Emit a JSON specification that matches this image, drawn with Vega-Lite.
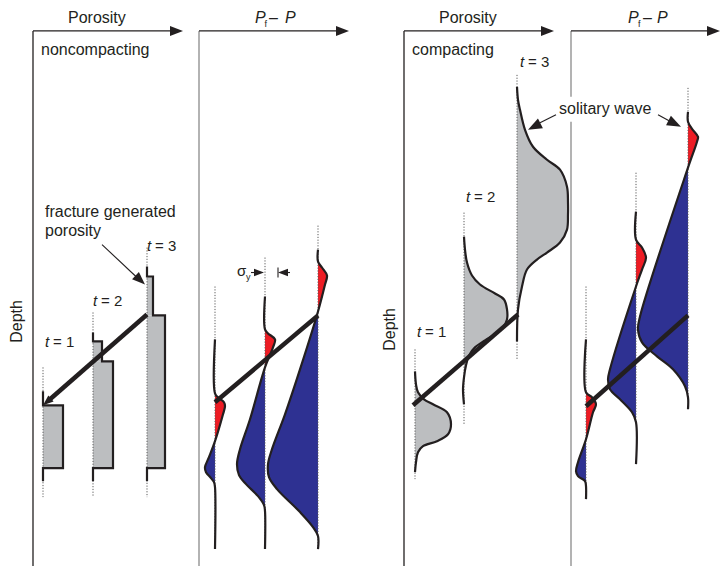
{
  "$schema": "https://vega.github.io/schema/vega-lite/v6.json",
  "width": 726,
  "height": 567,
  "autosize": {"type": "fit", "contains": "padding"},
  "padding": 0,
  "background": "white",
  "config": {"view": {"stroke": null}, "text": {"font": "Liberation Sans", "color": "#231f20"}},
  "datasets": {
    "frames": [
      {"x": 33, "y": 31, "x2": 33, "y2": 567, "c": "#231f20"},
      {"x": 33, "y": 31, "x2": 172, "y2": 31, "c": "#231f20"},
      {"x": 199, "y": 31, "x2": 199, "y2": 567, "c": "#8a8a8a"},
      {"x": 199, "y": 31, "x2": 338, "y2": 31, "c": "#231f20"},
      {"x": 404, "y": 31, "x2": 404, "y2": 567, "c": "#231f20"},
      {"x": 404, "y": 31, "x2": 543, "y2": 31, "c": "#231f20"},
      {"x": 571, "y": 31, "x2": 571, "y2": 97, "c": "#8a8a8a"},
      {"x": 571, "y": 122, "x2": 571, "y2": 567, "c": "#8a8a8a"},
      {"x": 571, "y": 31, "x2": 709, "y2": 31, "c": "#231f20"}
    ],
    "rects": [
      {"x": 43, "x2": 63, "y": 406, "y2": 469},
      {"x": 93, "x2": 102, "y": 342, "y2": 362},
      {"x": 93, "x2": 113, "y": 362, "y2": 469},
      {"x": 147, "x2": 153, "y": 277, "y2": 316},
      {"x": 147, "x2": 165, "y": 316, "y2": 469}
    ],
    "fills": [
      {"g": "r1", "c": "#ed1c24", "b": 215, "y": 394, "x": 215},
      {"g": "r1", "c": "#ed1c24", "b": 215, "y": 398, "x": 218},
      {"g": "r1", "c": "#ed1c24", "b": 215, "y": 403, "x": 224},
      {"g": "r1", "c": "#ed1c24", "b": 215, "y": 407, "x": 225},
      {"g": "r1", "c": "#ed1c24", "b": 215, "y": 415, "x": 223},
      {"g": "r1", "c": "#ed1c24", "b": 215, "y": 442, "x": 215},
      {"g": "b1", "c": "#2e3192", "b": 215, "y": 442, "x": 215},
      {"g": "b1", "c": "#2e3192", "b": 215, "y": 458, "x": 209},
      {"g": "b1", "c": "#2e3192", "b": 215, "y": 468, "x": 205},
      {"g": "b1", "c": "#2e3192", "b": 215, "y": 473, "x": 206},
      {"g": "b1", "c": "#2e3192", "b": 215, "y": 479, "x": 211},
      {"g": "b1", "c": "#2e3192", "b": 215, "y": 483, "x": 214},
      {"g": "b1", "c": "#2e3192", "b": 215, "y": 488, "x": 215},
      {"g": "r2", "c": "#ed1c24", "b": 265, "y": 330, "x": 265},
      {"g": "r2", "c": "#ed1c24", "b": 265, "y": 334, "x": 268},
      {"g": "r2", "c": "#ed1c24", "b": 265, "y": 340, "x": 275},
      {"g": "r2", "c": "#ed1c24", "b": 265, "y": 348, "x": 273},
      {"g": "r2", "c": "#ed1c24", "b": 265, "y": 368, "x": 265},
      {"g": "b2", "c": "#2e3192", "b": 265, "y": 368, "x": 265},
      {"g": "b2", "c": "#2e3192", "b": 265, "y": 420, "x": 250},
      {"g": "b2", "c": "#2e3192", "b": 265, "y": 450, "x": 240},
      {"g": "b2", "c": "#2e3192", "b": 265, "y": 465, "x": 237},
      {"g": "b2", "c": "#2e3192", "b": 265, "y": 476, "x": 239},
      {"g": "b2", "c": "#2e3192", "b": 265, "y": 485, "x": 246},
      {"g": "b2", "c": "#2e3192", "b": 265, "y": 497, "x": 258},
      {"g": "b2", "c": "#2e3192", "b": 265, "y": 506, "x": 264},
      {"g": "b2", "c": "#2e3192", "b": 265, "y": 512, "x": 265},
      {"g": "r3", "c": "#ed1c24", "b": 318, "y": 262, "x": 318},
      {"g": "r3", "c": "#ed1c24", "b": 318, "y": 268, "x": 322},
      {"g": "r3", "c": "#ed1c24", "b": 318, "y": 276, "x": 327},
      {"g": "r3", "c": "#ed1c24", "b": 318, "y": 285, "x": 325},
      {"g": "r3", "c": "#ed1c24", "b": 318, "y": 312, "x": 318},
      {"g": "b3", "c": "#2e3192", "b": 318, "y": 312, "x": 318},
      {"g": "b3", "c": "#2e3192", "b": 318, "y": 370, "x": 300},
      {"g": "b3", "c": "#2e3192", "b": 318, "y": 415, "x": 285},
      {"g": "b3", "c": "#2e3192", "b": 318, "y": 450, "x": 272},
      {"g": "b3", "c": "#2e3192", "b": 318, "y": 465, "x": 268},
      {"g": "b3", "c": "#2e3192", "b": 318, "y": 478, "x": 269},
      {"g": "b3", "c": "#2e3192", "b": 318, "y": 490, "x": 277},
      {"g": "b3", "c": "#2e3192", "b": 318, "y": 513, "x": 300},
      {"g": "b3", "c": "#2e3192", "b": 318, "y": 528, "x": 313},
      {"g": "b3", "c": "#2e3192", "b": 318, "y": 537, "x": 318},
      {"g": "g1", "c": "#bcbec0", "b": 415, "y": 372, "x": 415},
      {"g": "g1", "c": "#bcbec0", "b": 415, "y": 385, "x": 416},
      {"g": "g1", "c": "#bcbec0", "b": 415, "y": 393, "x": 418},
      {"g": "g1", "c": "#bcbec0", "b": 415, "y": 400, "x": 424},
      {"g": "g1", "c": "#bcbec0", "b": 415, "y": 405, "x": 433},
      {"g": "g1", "c": "#bcbec0", "b": 415, "y": 413, "x": 447},
      {"g": "g1", "c": "#bcbec0", "b": 415, "y": 425, "x": 451},
      {"g": "g1", "c": "#bcbec0", "b": 415, "y": 435, "x": 448},
      {"g": "g1", "c": "#bcbec0", "b": 415, "y": 442, "x": 437},
      {"g": "g1", "c": "#bcbec0", "b": 415, "y": 447, "x": 423},
      {"g": "g1", "c": "#bcbec0", "b": 415, "y": 453, "x": 418},
      {"g": "g1", "c": "#bcbec0", "b": 415, "y": 463, "x": 416},
      {"g": "g1", "c": "#bcbec0", "b": 415, "y": 473, "x": 415},
      {"g": "g2", "c": "#bcbec0", "b": 464, "y": 237, "x": 464},
      {"g": "g2", "c": "#bcbec0", "b": 464, "y": 250, "x": 465},
      {"g": "g2", "c": "#bcbec0", "b": 464, "y": 263, "x": 467},
      {"g": "g2", "c": "#bcbec0", "b": 464, "y": 276, "x": 472},
      {"g": "g2", "c": "#bcbec0", "b": 464, "y": 285, "x": 480},
      {"g": "g2", "c": "#bcbec0", "b": 464, "y": 294, "x": 495},
      {"g": "g2", "c": "#bcbec0", "b": 464, "y": 300, "x": 504},
      {"g": "g2", "c": "#bcbec0", "b": 464, "y": 310, "x": 507},
      {"g": "g2", "c": "#bcbec0", "b": 464, "y": 320, "x": 507},
      {"g": "g2", "c": "#bcbec0", "b": 464, "y": 328, "x": 503},
      {"g": "g2", "c": "#bcbec0", "b": 464, "y": 335, "x": 495},
      {"g": "g2", "c": "#bcbec0", "b": 464, "y": 341, "x": 485},
      {"g": "g2", "c": "#bcbec0", "b": 464, "y": 348, "x": 475},
      {"g": "g2", "c": "#bcbec0", "b": 464, "y": 356, "x": 469},
      {"g": "g2", "c": "#bcbec0", "b": 464, "y": 366, "x": 466},
      {"g": "g2", "c": "#bcbec0", "b": 464, "y": 378, "x": 464},
      {"g": "g3", "c": "#bcbec0", "b": 517, "y": 87, "x": 517},
      {"g": "g3", "c": "#bcbec0", "b": 517, "y": 100, "x": 518},
      {"g": "g3", "c": "#bcbec0", "b": 517, "y": 110, "x": 520},
      {"g": "g3", "c": "#bcbec0", "b": 517, "y": 130, "x": 525},
      {"g": "g3", "c": "#bcbec0", "b": 517, "y": 147, "x": 533},
      {"g": "g3", "c": "#bcbec0", "b": 517, "y": 160, "x": 547},
      {"g": "g3", "c": "#bcbec0", "b": 517, "y": 170, "x": 560},
      {"g": "g3", "c": "#bcbec0", "b": 517, "y": 187, "x": 567},
      {"g": "g3", "c": "#bcbec0", "b": 517, "y": 203, "x": 568},
      {"g": "g3", "c": "#bcbec0", "b": 517, "y": 215, "x": 568},
      {"g": "g3", "c": "#bcbec0", "b": 517, "y": 230, "x": 567},
      {"g": "g3", "c": "#bcbec0", "b": 517, "y": 243, "x": 560},
      {"g": "g3", "c": "#bcbec0", "b": 517, "y": 253, "x": 547},
      {"g": "g3", "c": "#bcbec0", "b": 517, "y": 260, "x": 537},
      {"g": "g3", "c": "#bcbec0", "b": 517, "y": 270, "x": 527},
      {"g": "g3", "c": "#bcbec0", "b": 517, "y": 287, "x": 522},
      {"g": "g3", "c": "#bcbec0", "b": 517, "y": 310, "x": 518},
      {"g": "g3", "c": "#bcbec0", "b": 517, "y": 340, "x": 517},
      {"g": "s1", "c": "#ed1c24", "b": 586, "y": 393, "x": 586},
      {"g": "s1", "c": "#ed1c24", "b": 586, "y": 398, "x": 592},
      {"g": "s1", "c": "#ed1c24", "b": 586, "y": 405, "x": 596},
      {"g": "s1", "c": "#ed1c24", "b": 586, "y": 413, "x": 593},
      {"g": "s1", "c": "#ed1c24", "b": 586, "y": 440, "x": 586},
      {"g": "u1", "c": "#2e3192", "b": 586, "y": 440, "x": 586},
      {"g": "u1", "c": "#2e3192", "b": 586, "y": 463, "x": 578},
      {"g": "u1", "c": "#2e3192", "b": 586, "y": 472, "x": 576},
      {"g": "u1", "c": "#2e3192", "b": 586, "y": 477, "x": 578},
      {"g": "u1", "c": "#2e3192", "b": 586, "y": 482, "x": 585},
      {"g": "u1", "c": "#2e3192", "b": 586, "y": 487, "x": 586},
      {"g": "s2", "c": "#ed1c24", "b": 636, "y": 240, "x": 636},
      {"g": "s2", "c": "#ed1c24", "b": 636, "y": 248, "x": 642},
      {"g": "s2", "c": "#ed1c24", "b": 636, "y": 258, "x": 646},
      {"g": "s2", "c": "#ed1c24", "b": 636, "y": 270, "x": 642},
      {"g": "s2", "c": "#ed1c24", "b": 636, "y": 287, "x": 636},
      {"g": "u2", "c": "#2e3192", "b": 636, "y": 287, "x": 636},
      {"g": "u2", "c": "#2e3192", "b": 636, "y": 370, "x": 610},
      {"g": "u2", "c": "#2e3192", "b": 636, "y": 380, "x": 608},
      {"g": "u2", "c": "#2e3192", "b": 636, "y": 390, "x": 610},
      {"g": "u2", "c": "#2e3192", "b": 636, "y": 400, "x": 620},
      {"g": "u2", "c": "#2e3192", "b": 636, "y": 413, "x": 632},
      {"g": "u2", "c": "#2e3192", "b": 636, "y": 423, "x": 636},
      {"g": "s3", "c": "#ed1c24", "b": 688, "y": 122, "x": 688},
      {"g": "s3", "c": "#ed1c24", "b": 688, "y": 129, "x": 692},
      {"g": "s3", "c": "#ed1c24", "b": 688, "y": 137, "x": 698},
      {"g": "s3", "c": "#ed1c24", "b": 688, "y": 142, "x": 697},
      {"g": "s3", "c": "#ed1c24", "b": 688, "y": 168, "x": 688},
      {"g": "u3", "c": "#2e3192", "b": 688, "y": 168, "x": 688},
      {"g": "u3", "c": "#2e3192", "b": 688, "y": 317, "x": 640},
      {"g": "u3", "c": "#2e3192", "b": 688, "y": 330, "x": 638},
      {"g": "u3", "c": "#2e3192", "b": 688, "y": 343, "x": 642},
      {"g": "u3", "c": "#2e3192", "b": 688, "y": 357, "x": 657},
      {"g": "u3", "c": "#2e3192", "b": 688, "y": 370, "x": 673},
      {"g": "u3", "c": "#2e3192", "b": 688, "y": 387, "x": 685},
      {"g": "u3", "c": "#2e3192", "b": 688, "y": 398, "x": 688}
    ],
    "dots": [
      {"x": 43, "y": 368, "y2": 498},
      {"x": 93, "y": 313, "y2": 498},
      {"x": 147, "y": 248, "y2": 498},
      {"x": 215, "y": 287, "y2": 550},
      {"x": 265, "y": 258, "y2": 550},
      {"x": 318, "y": 226, "y2": 550},
      {"x": 415, "y": 350, "y2": 480},
      {"x": 464, "y": 213, "y2": 425},
      {"x": 517, "y": 75, "y2": 360},
      {"x": 586, "y": 287, "y2": 500},
      {"x": 636, "y": 173, "y2": 420},
      {"x": 688, "y": 88, "y2": 400}
    ],
    "steps": [
      {"g": "a", "i": 1, "x": 43, "y": 392}, {"g": "a", "i": 2, "x": 43, "y": 406}, {"g": "a", "i": 3, "x": 63, "y": 406},
      {"g": "a", "i": 4, "x": 63, "y": 469}, {"g": "a", "i": 5, "x": 43, "y": 469}, {"g": "a", "i": 6, "x": 43, "y": 482},
      {"g": "b", "i": 1, "x": 93, "y": 333}, {"g": "b", "i": 2, "x": 93, "y": 342}, {"g": "b", "i": 3, "x": 102, "y": 342},
      {"g": "b", "i": 4, "x": 102, "y": 362}, {"g": "b", "i": 5, "x": 113, "y": 362}, {"g": "b", "i": 6, "x": 113, "y": 469},
      {"g": "b", "i": 7, "x": 93, "y": 469}, {"g": "b", "i": 8, "x": 93, "y": 482},
      {"g": "c", "i": 1, "x": 147, "y": 267}, {"g": "c", "i": 2, "x": 147, "y": 277}, {"g": "c", "i": 3, "x": 153, "y": 277},
      {"g": "c", "i": 4, "x": 153, "y": 316}, {"g": "c", "i": 5, "x": 165, "y": 316}, {"g": "c", "i": 6, "x": 165, "y": 469},
      {"g": "c", "i": 7, "x": 147, "y": 469}, {"g": "c", "i": 8, "x": 147, "y": 482}
    ],
    "curves": [
      {"g": "p2a", "i": 1, "x": 215, "y": 340}, {"g": "p2a", "i": 2, "x": 215, "y": 394}, {"g": "p2a", "i": 3, "x": 218, "y": 398},
      {"g": "p2a", "i": 4, "x": 224, "y": 403}, {"g": "p2a", "i": 5, "x": 225, "y": 407}, {"g": "p2a", "i": 6, "x": 223, "y": 415},
      {"g": "p2a", "i": 7, "x": 215, "y": 442}, {"g": "p2a", "i": 8, "x": 209, "y": 458}, {"g": "p2a", "i": 9, "x": 205, "y": 468},
      {"g": "p2a", "i": 10, "x": 206, "y": 473}, {"g": "p2a", "i": 11, "x": 211, "y": 479}, {"g": "p2a", "i": 12, "x": 214, "y": 483},
      {"g": "p2a", "i": 13, "x": 215, "y": 488}, {"g": "p2a", "i": 14, "x": 215, "y": 550},
      {"g": "p2b", "i": 1, "x": 265, "y": 297}, {"g": "p2b", "i": 2, "x": 265, "y": 330}, {"g": "p2b", "i": 3, "x": 268, "y": 334},
      {"g": "p2b", "i": 4, "x": 275, "y": 340}, {"g": "p2b", "i": 5, "x": 273, "y": 348}, {"g": "p2b", "i": 6, "x": 265, "y": 368},
      {"g": "p2b", "i": 7, "x": 250, "y": 420}, {"g": "p2b", "i": 8, "x": 240, "y": 450}, {"g": "p2b", "i": 9, "x": 237, "y": 465},
      {"g": "p2b", "i": 10, "x": 239, "y": 476}, {"g": "p2b", "i": 11, "x": 246, "y": 485}, {"g": "p2b", "i": 12, "x": 258, "y": 497},
      {"g": "p2b", "i": 13, "x": 264, "y": 506}, {"g": "p2b", "i": 14, "x": 265, "y": 512}, {"g": "p2b", "i": 15, "x": 265, "y": 550},
      {"g": "p2c", "i": 1, "x": 318, "y": 250}, {"g": "p2c", "i": 2, "x": 318, "y": 262}, {"g": "p2c", "i": 3, "x": 322, "y": 268},
      {"g": "p2c", "i": 4, "x": 327, "y": 276}, {"g": "p2c", "i": 5, "x": 325, "y": 285}, {"g": "p2c", "i": 6, "x": 318, "y": 312},
      {"g": "p2c", "i": 7, "x": 300, "y": 370}, {"g": "p2c", "i": 8, "x": 285, "y": 415}, {"g": "p2c", "i": 9, "x": 272, "y": 450},
      {"g": "p2c", "i": 10, "x": 268, "y": 465}, {"g": "p2c", "i": 11, "x": 269, "y": 478}, {"g": "p2c", "i": 12, "x": 277, "y": 490},
      {"g": "p2c", "i": 13, "x": 300, "y": 513}, {"g": "p2c", "i": 14, "x": 313, "y": 528}, {"g": "p2c", "i": 15, "x": 318, "y": 537},
      {"g": "p2c", "i": 16, "x": 318, "y": 550},
      {"g": "p3a", "i": 1, "x": 415, "y": 372}, {"g": "p3a", "i": 2, "x": 416, "y": 385}, {"g": "p3a", "i": 3, "x": 418, "y": 393},
      {"g": "p3a", "i": 4, "x": 424, "y": 400}, {"g": "p3a", "i": 5, "x": 433, "y": 405}, {"g": "p3a", "i": 6, "x": 447, "y": 413},
      {"g": "p3a", "i": 7, "x": 451, "y": 425}, {"g": "p3a", "i": 8, "x": 448, "y": 435}, {"g": "p3a", "i": 9, "x": 437, "y": 442},
      {"g": "p3a", "i": 10, "x": 423, "y": 447}, {"g": "p3a", "i": 11, "x": 418, "y": 453}, {"g": "p3a", "i": 12, "x": 416, "y": 463},
      {"g": "p3a", "i": 13, "x": 415, "y": 473},
      {"g": "p3b", "i": 1, "x": 464, "y": 237}, {"g": "p3b", "i": 2, "x": 465, "y": 250}, {"g": "p3b", "i": 3, "x": 467, "y": 263},
      {"g": "p3b", "i": 4, "x": 472, "y": 276}, {"g": "p3b", "i": 5, "x": 480, "y": 285}, {"g": "p3b", "i": 6, "x": 495, "y": 294},
      {"g": "p3b", "i": 7, "x": 504, "y": 300}, {"g": "p3b", "i": 8, "x": 507, "y": 310}, {"g": "p3b", "i": 9, "x": 507, "y": 320},
      {"g": "p3b", "i": 10, "x": 503, "y": 328}, {"g": "p3b", "i": 11, "x": 495, "y": 335}, {"g": "p3b", "i": 12, "x": 485, "y": 341},
      {"g": "p3b", "i": 13, "x": 475, "y": 348}, {"g": "p3b", "i": 14, "x": 469, "y": 356}, {"g": "p3b", "i": 15, "x": 466, "y": 366},
      {"g": "p3b", "i": 16, "x": 464, "y": 378}, {"g": "p3b", "i": 17, "x": 463, "y": 390}, {"g": "p3b", "i": 18, "x": 464, "y": 405},
      {"g": "p3c", "i": 1, "x": 517, "y": 87}, {"g": "p3c", "i": 2, "x": 518, "y": 100}, {"g": "p3c", "i": 3, "x": 520, "y": 110},
      {"g": "p3c", "i": 4, "x": 525, "y": 130}, {"g": "p3c", "i": 5, "x": 533, "y": 147}, {"g": "p3c", "i": 6, "x": 547, "y": 160},
      {"g": "p3c", "i": 7, "x": 560, "y": 170}, {"g": "p3c", "i": 8, "x": 567, "y": 187}, {"g": "p3c", "i": 9, "x": 568, "y": 203},
      {"g": "p3c", "i": 10, "x": 568, "y": 215}, {"g": "p3c", "i": 11, "x": 567, "y": 230}, {"g": "p3c", "i": 12, "x": 560, "y": 243},
      {"g": "p3c", "i": 13, "x": 547, "y": 253}, {"g": "p3c", "i": 14, "x": 537, "y": 260}, {"g": "p3c", "i": 15, "x": 527, "y": 270},
      {"g": "p3c", "i": 16, "x": 522, "y": 287}, {"g": "p3c", "i": 17, "x": 518, "y": 310}, {"g": "p3c", "i": 18, "x": 517, "y": 342},
      {"g": "p4a", "i": 1, "x": 586, "y": 340}, {"g": "p4a", "i": 2, "x": 586, "y": 393}, {"g": "p4a", "i": 3, "x": 592, "y": 398},
      {"g": "p4a", "i": 4, "x": 596, "y": 405}, {"g": "p4a", "i": 5, "x": 593, "y": 413}, {"g": "p4a", "i": 6, "x": 586, "y": 440},
      {"g": "p4a", "i": 7, "x": 578, "y": 463}, {"g": "p4a", "i": 8, "x": 576, "y": 472}, {"g": "p4a", "i": 9, "x": 578, "y": 477},
      {"g": "p4a", "i": 10, "x": 585, "y": 482}, {"g": "p4a", "i": 11, "x": 586, "y": 487}, {"g": "p4a", "i": 12, "x": 586, "y": 500},
      {"g": "p4b", "i": 1, "x": 636, "y": 212}, {"g": "p4b", "i": 2, "x": 636, "y": 240}, {"g": "p4b", "i": 3, "x": 642, "y": 248},
      {"g": "p4b", "i": 4, "x": 646, "y": 258}, {"g": "p4b", "i": 5, "x": 642, "y": 270}, {"g": "p4b", "i": 6, "x": 636, "y": 287},
      {"g": "p4b", "i": 7, "x": 610, "y": 370}, {"g": "p4b", "i": 8, "x": 608, "y": 380}, {"g": "p4b", "i": 9, "x": 610, "y": 390},
      {"g": "p4b", "i": 10, "x": 620, "y": 400}, {"g": "p4b", "i": 11, "x": 632, "y": 413}, {"g": "p4b", "i": 12, "x": 636, "y": 423},
      {"g": "p4b", "i": 13, "x": 636, "y": 465},
      {"g": "p4c", "i": 1, "x": 688, "y": 112}, {"g": "p4c", "i": 2, "x": 688, "y": 122}, {"g": "p4c", "i": 3, "x": 692, "y": 129},
      {"g": "p4c", "i": 4, "x": 698, "y": 137}, {"g": "p4c", "i": 5, "x": 697, "y": 142}, {"g": "p4c", "i": 6, "x": 688, "y": 168},
      {"g": "p4c", "i": 7, "x": 640, "y": 317}, {"g": "p4c", "i": 8, "x": 638, "y": 330}, {"g": "p4c", "i": 9, "x": 642, "y": 343},
      {"g": "p4c", "i": 10, "x": 657, "y": 357}, {"g": "p4c", "i": 11, "x": 673, "y": 370}, {"g": "p4c", "i": 12, "x": 685, "y": 387},
      {"g": "p4c", "i": 13, "x": 688, "y": 398}, {"g": "p4c", "i": 14, "x": 688, "y": 410}
    ],
    "thick": [
      {"x": 50, "y": 400, "x2": 147, "y2": 315},
      {"x": 215, "y": 403, "x2": 318, "y2": 316},
      {"x": 413, "y": 406, "x2": 518, "y2": 315},
      {"x": 586, "y": 407, "x2": 688, "y2": 316}
    ],
    "thin": [
      {"x": 102, "y": 245, "x2": 137, "y2": 278},
      {"x": 556, "y": 115, "x2": 540, "y2": 123},
      {"x": 658, "y": 115, "x2": 669, "y2": 121},
      {"x": 251, "y": 273, "x2": 257, "y2": 273},
      {"x": 284, "y": 273, "x2": 290, "y2": 273},
      {"x": 278, "y": 268, "x2": 278, "y2": 278}
    ],
    "heads": [
      {"x": 183, "y": 31, "a": 0, "s": 169},
      {"x": 349, "y": 31, "a": 0, "s": 169},
      {"x": 554, "y": 31, "a": 0, "s": 169},
      {"x": 720, "y": 31, "a": 0, "s": 169},
      {"x": 145, "y": 285, "a": 43, "s": 169},
      {"x": 528, "y": 130, "a": 152.7, "s": 196},
      {"x": 681, "y": 127, "a": 26.6, "s": 196},
      {"x": 43, "y": 406, "a": 139.4, "s": 110},
      {"x": 264, "y": 273, "a": 0, "s": 100},
      {"x": 278, "y": 273, "a": 180, "s": 100}
    ],
    "texts": [
      {"t": "Porosity", "x": 68, "y": 23, "s": 16},
      {"t": "noncompacting", "x": 41, "y": 55, "s": 16},
      {"t": "Porosity", "x": 439, "y": 23, "s": 16},
      {"t": "compacting", "x": 412, "y": 55, "s": 16},
      {"t": "fracture generated", "x": 45, "y": 217, "s": 16},
      {"t": "porosity", "x": 45, "y": 236, "s": 16},
      {"t": "solitary wave", "x": 559, "y": 114, "s": 16},
      {"t": "–", "x": 269, "y": 23, "s": 16},
      {"t": "–", "x": 643, "y": 23, "s": 16},
      {"t": "f", "x": 264.5, "y": 27, "s": 9},
      {"t": "f", "x": 638, "y": 27, "s": 9},
      {"t": "σ", "x": 237, "y": 276, "s": 15},
      {"t": "y", "x": 246, "y": 280, "s": 9},
      {"t": "= 1", "x": 53, "y": 348, "s": 15},
      {"t": "= 2", "x": 101, "y": 307, "s": 15},
      {"t": "= 3", "x": 155, "y": 251, "s": 15},
      {"t": "= 1", "x": 425, "y": 338, "s": 15},
      {"t": "= 2", "x": 474, "y": 202, "s": 15},
      {"t": "= 3", "x": 528, "y": 67, "s": 15}
    ],
    "italic": [
      {"t": "P", "x": 255, "y": 23, "s": 16},
      {"t": "P", "x": 285, "y": 23, "s": 16},
      {"t": "P", "x": 628, "y": 23, "s": 16},
      {"t": "P", "x": 657, "y": 23, "s": 16},
      {"t": "t", "x": 45, "y": 348, "s": 15},
      {"t": "t", "x": 93, "y": 307, "s": 15},
      {"t": "t", "x": 147, "y": 251, "s": 15},
      {"t": "t", "x": 417, "y": 338, "s": 15},
      {"t": "t", "x": 466, "y": 202, "s": 15},
      {"t": "t", "x": 520, "y": 67, "s": 15}
    ],
    "rotated": [
      {"t": "Depth", "x": 17, "y": 322, "s": 16},
      {"t": "Depth", "x": 390, "y": 330, "s": 16}
    ]
  },
  "layer": [
    {
      "data": {"name": "frames"},
      "mark": {"type": "rule", "strokeWidth": 1.3},
      "encoding": {
        "x": {"field": "x", "type": "quantitative", "scale": {"domain": [0, 726], "nice": false, "zero": false}, "axis": null},
        "y": {"field": "y", "type": "quantitative", "scale": {"domain": [0, 567], "nice": false, "zero": false, "reverse": true}, "axis": null},
        "x2": {"field": "x2"},
        "y2": {"field": "y2"},
        "color": {"field": "c", "type": "nominal", "scale": null}
      }
    },
    {
      "data": {"name": "rects"},
      "mark": {"type": "rect", "color": "#bcbec0"},
      "encoding": {
        "x": {"field": "x", "type": "quantitative", "axis": null},
        "y": {"field": "y", "type": "quantitative", "axis": null},
        "x2": {"field": "x2"},
        "y2": {"field": "y2"}
      }
    },
    {
      "data": {"name": "fills"},
      "mark": {"type": "area", "orient": "horizontal", "interpolate": "catmull-rom", "opacity": 1},
      "encoding": {
        "y": {"field": "y", "type": "quantitative", "axis": null},
        "x": {"field": "x", "type": "quantitative", "axis": null, "stack": null},
        "x2": {"field": "b"},
        "color": {"field": "c", "type": "nominal", "scale": null},
        "detail": {"field": "g", "type": "nominal"}
      }
    },
    {
      "data": {"name": "dots"},
      "mark": {"type": "rule", "strokeWidth": 1, "strokeDash": [1.2, 1.6], "color": "#5a5a5a"},
      "encoding": {
        "x": {"field": "x", "type": "quantitative", "axis": null},
        "y": {"field": "y", "type": "quantitative", "axis": null},
        "y2": {"field": "y2"}
      }
    },
    {
      "data": {"name": "steps"},
      "mark": {"type": "line", "strokeWidth": 2.2, "color": "#231f20", "strokeJoin": "miter"},
      "encoding": {
        "x": {"field": "x", "type": "quantitative", "axis": null},
        "y": {"field": "y", "type": "quantitative", "axis": null},
        "detail": {"field": "g", "type": "nominal"},
        "order": {"field": "i", "type": "quantitative"}
      }
    },
    {
      "data": {"name": "curves"},
      "mark": {"type": "line", "strokeWidth": 2.2, "color": "#231f20", "interpolate": "catmull-rom"},
      "encoding": {
        "x": {"field": "x", "type": "quantitative", "axis": null},
        "y": {"field": "y", "type": "quantitative", "axis": null},
        "detail": {"field": "g", "type": "nominal"},
        "order": {"field": "i", "type": "quantitative"}
      }
    },
    {
      "data": {"name": "thick"},
      "mark": {"type": "rule", "strokeWidth": 4.5, "color": "#231f20"},
      "encoding": {
        "x": {"field": "x", "type": "quantitative", "axis": null},
        "y": {"field": "y", "type": "quantitative", "axis": null},
        "x2": {"field": "x2"},
        "y2": {"field": "y2"}
      }
    },
    {
      "data": {"name": "thin"},
      "mark": {"type": "rule", "strokeWidth": 1.1, "color": "#231f20"},
      "encoding": {
        "x": {"field": "x", "type": "quantitative", "axis": null},
        "y": {"field": "y", "type": "quantitative", "axis": null},
        "x2": {"field": "x2"},
        "y2": {"field": "y2"}
      }
    },
    {
      "data": {"name": "heads"},
      "mark": {"type": "point", "shape": "M0,0L-2,-0.77L-2,0.77Z", "filled": true, "color": "#231f20", "opacity": 1, "strokeWidth": 0},
      "encoding": {
        "x": {"field": "x", "type": "quantitative", "axis": null},
        "y": {"field": "y", "type": "quantitative", "axis": null},
        "angle": {"field": "a", "type": "quantitative", "scale": null},
        "size": {"field": "s", "type": "quantitative", "scale": null}
      }
    },
    {
      "data": {"name": "texts"},
      "mark": {"type": "text", "align": "left", "baseline": "alphabetic"},
      "encoding": {
        "x": {"field": "x", "type": "quantitative", "axis": null},
        "y": {"field": "y", "type": "quantitative", "axis": null},
        "text": {"field": "t"},
        "size": {"field": "s", "type": "quantitative", "scale": null}
      }
    },
    {
      "data": {"name": "italic"},
      "mark": {"type": "text", "align": "left", "baseline": "alphabetic", "fontStyle": "italic"},
      "encoding": {
        "x": {"field": "x", "type": "quantitative", "axis": null},
        "y": {"field": "y", "type": "quantitative", "axis": null},
        "text": {"field": "t"},
        "size": {"field": "s", "type": "quantitative", "scale": null}
      }
    },
    {
      "data": {"name": "rotated"},
      "mark": {"type": "text", "align": "center", "baseline": "middle", "angle": 270},
      "encoding": {
        "x": {"field": "x", "type": "quantitative", "axis": null},
        "y": {"field": "y", "type": "quantitative", "axis": null},
        "text": {"field": "t"},
        "size": {"field": "s", "type": "quantitative", "scale": null}
      }
    }
  ]
}
